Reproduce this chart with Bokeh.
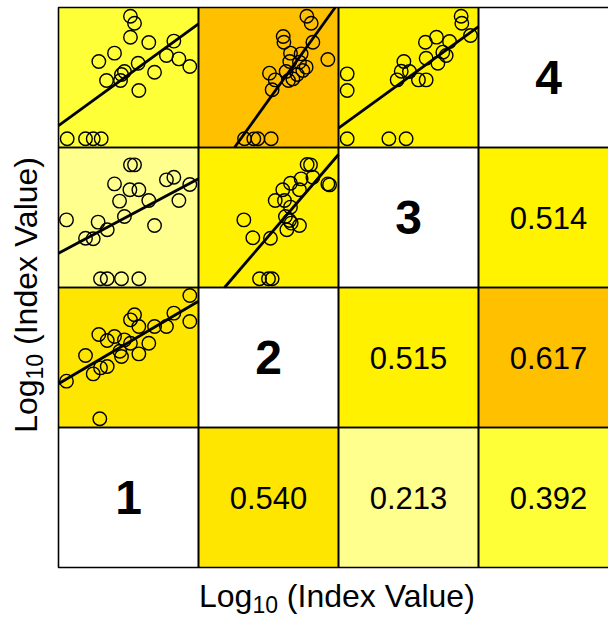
import numpy as np
from bokeh.plotting import figure
from bokeh.models import Range1d
from bokeh.core.properties import value
from bokeh.embed import file_html
from bokeh.resources import INLINE

# ---------------- data ----------------
variables = ["1", "2", "3", "4"]

# correlations (pair i<j) shown in lower-right triangle
corr_i = [1, 1, 1, 2, 2, 3]
corr_j = [2, 3, 4, 3, 4, 4]
corr_values = [0.540, 0.213, 0.392, 0.515, 0.617, 0.514]
corr_colors = ["#FFE600", "#FFFF8E", "#FFFF38", "#FFF100", "#FFC000", "#FFF300"]

# scatter values (scaled to each panel's range, 0..1), x = variable i, y = variable j
x_12 = [0.938, 0.543, 0.514, 0.574, 0.824, 0.938, 0.686, 0.771, 0.288, 0.348, 0.400, 0.471,
        0.514, 0.645, 0.193, 0.438, 0.450, 0.574, 0.248, 0.300, 0.348, 0.057, 0.295]
y_12 = [0.943, 0.805, 0.769, 0.721, 0.817, 0.757, 0.721, 0.721, 0.664, 0.621, 0.650, 0.626,
        0.602, 0.602, 0.514, 0.545, 0.507, 0.526, 0.383, 0.426, 0.436, 0.331, 0.062]

x_13 = [0.514, 0.543, 0.400, 0.510, 0.574, 0.771, 0.824, 0.938, 0.436, 0.645, 0.860, 0.057,
        0.283, 0.471, 0.348, 0.686, 0.193, 0.248, 0.300, 0.348, 0.450, 0.574]
y_13 = [0.876, 0.876, 0.740, 0.698, 0.698, 0.769, 0.788, 0.736, 0.617, 0.621, 0.621, 0.483,
        0.467, 0.507, 0.412, 0.443, 0.352, 0.348, 0.062, 0.062, 0.062, 0.062]

x_14 = [0.514, 0.543, 0.514, 0.645, 0.824, 0.400, 0.288, 0.569, 0.771, 0.860, 0.938, 0.471,
        0.450, 0.443, 0.343, 0.686, 0.574, 0.062, 0.193, 0.248, 0.305]
y_14 = [0.938, 0.888, 0.788, 0.750, 0.760, 0.674, 0.614, 0.602, 0.657, 0.633, 0.579, 0.543,
        0.521, 0.479, 0.479, 0.538, 0.407, 0.062, 0.062, 0.062, 0.062]

x_23 = [0.776, 0.800, 0.817, 0.733, 0.657, 0.924, 0.936, 0.602, 0.721, 0.548, 0.614, 0.657,
        0.621, 0.324, 0.650, 0.721, 0.631, 0.662, 0.388, 0.514, 0.436, 0.500, 0.526]
y_23 = [0.879, 0.876, 0.788, 0.776, 0.745, 0.740, 0.733, 0.698, 0.698, 0.621, 0.621, 0.574,
        0.507, 0.483, 0.479, 0.443, 0.412, 0.460, 0.355, 0.352, 0.062, 0.062, 0.062]

x_24 = [0.774, 0.805, 0.605, 0.610, 0.817, 0.657, 0.733, 0.924, 0.652, 0.721, 0.769, 0.745,
        0.507, 0.626, 0.548, 0.643, 0.674, 0.526, 0.705, 0.329, 0.395, 0.424, 0.519]
y_24 = [0.938, 0.888, 0.793, 0.752, 0.752, 0.674, 0.669, 0.629, 0.614, 0.610, 0.574, 0.550,
        0.531, 0.543, 0.483, 0.479, 0.490, 0.412, 0.521, 0.062, 0.062, 0.062, 0.062]

x_34 = [0.876, 0.881, 0.943, 0.700, 0.621, 0.793, 0.745, 0.626, 0.769, 0.710, 0.467, 0.448,
        0.507, 0.419, 0.571, 0.626, 0.062, 0.062, 0.062, 0.360, 0.483]
y_34 = [0.938, 0.888, 0.800, 0.788, 0.752, 0.757, 0.681, 0.638, 0.657, 0.602, 0.614, 0.545,
        0.543, 0.483, 0.483, 0.483, 0.526, 0.407, 0.062, 0.062, 0.062]

# fitted lines: intercept, slope (panel-scaled units)
fit_intercept = {(1, 2): 0.312, (1, 3): 0.245, (1, 4): 0.157, (2, 3): -0.217, (2, 4): -0.3575, (3, 4): 0.138}
fit_slope = {(1, 2): 0.590, (1, 3): 0.531, (1, 4): 0.726, (2, 3): 1.167, (2, 4): 1.391, (3, 4): 0.726}

scatter_data = {(1, 2): (x_12, y_12), (1, 3): (x_13, y_13), (1, 4): (x_14, y_14),
                (2, 3): (x_23, y_23), (2, 4): (x_24, y_24), (3, 4): (x_34, y_34)}

axis_main = ["Log", "(Index Value)"]
axis_sub = "10"

# ---------------- layout ----------------
W, H = 608, 619
SX = 140.0            # px per panel horizontally
SY = 140.0            # px per panel vertically
XS = -58.0 / SX
XE = XS + W / SX
YE = 4.0 + 7.0 / SY
YS = YE - H / SY

p = figure(width=W, height=H, x_range=Range1d(XS, XE), y_range=Range1d(YS, YE),
           output_backend="svg", toolbar_location=None,
           x_axis_location=None, y_axis_location=None, min_border=0, title=None)
p.outline_line_color = None
p.grid.visible = False
p.background_fill_color = "white"
p.border_fill_color = "white"

n = len(variables)
# panel backgrounds
left, right, bottom, top, fills = [], [], [], [], []
for k in range(n):
    left.append(k); right.append(k + 1); bottom.append(k); top.append(k + 1); fills.append("white")
for i, j, c in zip(corr_i, corr_j, corr_colors):
    # correlation cell: column j, row i
    left.append(j - 1); right.append(j); bottom.append(i - 1); top.append(i); fills.append(c)
    # scatter cell: column i, row j
    left.append(i - 1); right.append(i); bottom.append(j - 1); top.append(j); fills.append(c)
p.quad(left=left, right=right, bottom=bottom, top=top, fill_color=fills, line_color=None)

# scatter points and fit lines
sx0, sy0, sx1, sy1 = [], [], [], []
for (i, j), (xs, ys) in scatter_data.items():
    px = [i - 1 + v for v in xs]
    py = [j - 1 + v for v in ys]
    p.scatter(px, py, marker="circle", size=13.5, fill_color=None, line_color="black", line_width=1.4)
    a = fit_intercept[(i, j)]; b = fit_slope[(i, j)]
    xa, xb = (0 - a) / b, (1 - a) / b
    lo = max(0.0, min(xa, xb)); hi = min(1.0, max(xa, xb))
    sx0.append(i - 1 + lo); sy0.append(j - 1 + a + b * lo)
    sx1.append(i - 1 + hi); sy1.append(j - 1 + a + b * hi)
p.segment(sx0, sy0, sx1, sy1, line_color="black", line_width=2.8)

# panel borders
p.quad(left=left, right=right, bottom=bottom, top=top, fill_color=None, line_color="black", line_width=1.6)

# correlation text
p.text(x=[j - 0.5 for j in corr_j], y=[i - 0.5 for i in corr_i],
       text=[f"{r:.3f}" for r in corr_values], text_font=value("Liberation Sans"),
       text_font_size="31px", text_align="center", text_baseline="middle", text_color="black")
# diagonal labels
p.text(x=[k + 0.5 for k in range(n)], y=[k + 0.5 for k in range(n)], text=variables,
       text_font=value("Liberation Sans"), text_font_style="bold", text_font_size="48px",
       text_align="center", text_baseline="middle", text_color="black")

# axis labels built from pieces (subscript 10); positioned by text middle
F, FS = 32.0, 23.0
w_log = 1.668 * F
w_sub = 1.112 * FS
w_space = 0.278 * F
mid = 0.3465
base_main = 606.7       # px, baseline of main text (x label)
base_sub = 611.7
x0 = (198.5 - 58) / SX
ym = (567 - (base_main - mid * F)) / SY
ys_ = (567 - (base_sub - mid * FS)) / SY
common = dict(text_font=value("Liberation Sans"), text_align="left", text_baseline="middle",
              text_color="black")
p.text(x=[x0], y=[ym], text=[axis_main[0]], text_font_size=f"{F}px", **common)
p.text(x=[x0 + w_log / SX], y=[ys_], text=[axis_sub], text_font_size=f"{FS}px", **common)
p.text(x=[x0 + (w_log + w_sub + w_space) / SX], y=[ym], text=[axis_main[1]],
       text_font_size=f"{F}px", **common)

ang = np.pi / 2
xm = ((36.7 - mid * F) - 58) / SX
xs_ = ((41.7 - mid * FS) - 58) / SX
y0 = (567 - 432.3) / SY
p.text(x=[xm], y=[y0], text=[axis_main[0]], angle=ang, text_font_size=f"{F}px", **common)
p.text(x=[xs_], y=[y0 + w_log / SY], text=[axis_sub], angle=ang, text_font_size=f"{FS}px", **common)
p.text(x=[xm], y=[y0 + (w_log + w_sub + w_space) / SY], text=[axis_main[1]], angle=ang,
       text_font_size=f"{F}px", **common)

open("out.html", "w").write(file_html(p, INLINE))
